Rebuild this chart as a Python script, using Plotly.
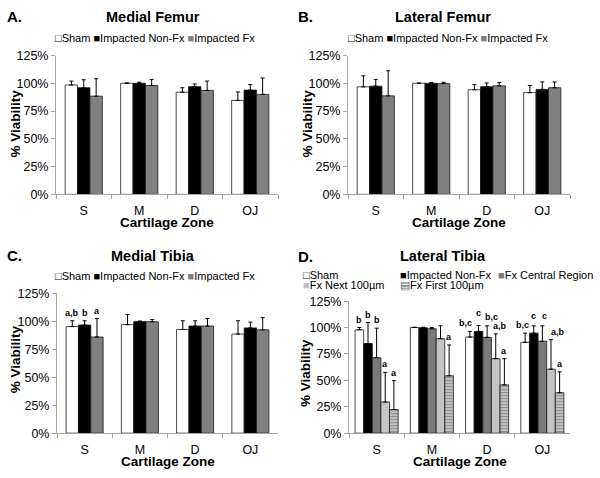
import plotly.graph_objects as go

# ---------------- data ----------------
zones = ["S", "M", "D", "OJ"]
y_ticks = [0, 25, 50, 75, 100, 125]
y_tick_labels = ["0%", "25%", "50%", "75%", "100%", "125%"]

# A. Medial Femur
mf_sham = [98.5, 100.0, 92.0, 84.6]
mf_sham_err = [3.5, 0.3, 4.0, 7.6]
mf_nonfx = [96.0, 100.0, 97.0, 93.9]
mf_nonfx_err = [7.2, 1.0, 2.4, 4.9]
mf_fx = [88.4, 98.0, 93.6, 90.0]
mf_fx_err = [15.7, 5.5, 8.4, 14.7]

# B. Lateral Femur
lf_sham = [96.8, 100.0, 94.2, 91.6]
lf_sham_err = [9.9, 0.2, 4.6, 6.4]
lf_nonfx = [97.4, 100.0, 97.0, 94.5]
lf_nonfx_err = [6.1, 0.6, 3.3, 6.7]
lf_fx = [88.7, 99.7, 97.7, 96.0]
lf_fx_err = [22.6, 1.2, 2.9, 5.2]

# C. Medial Tibia
mt_sham = [95.3, 97.0, 92.7, 88.6]
mt_sham_err = [5.2, 9.0, 7.8, 11.9]
mt_nonfx = [96.7, 99.9, 95.8, 94.1]
mt_nonfx_err = [3.8, 0.3, 4.7, 5.2]
mt_fx = [86.0, 99.6, 95.8, 92.4]
mt_fx_err = [16.5, 2.0, 6.7, 10.9]
mt_sham_sig = ["a,b", "", "", ""]
mt_nonfx_sig = ["b", "", "", ""]
mt_fx_sig = ["a", "", "", ""]

# D. Lateral Tibia
lt_sham = [97.8, 100.0, 91.0, 86.0]
lt_sham_err = [2.2, 0.3, 5.3, 8.7]
lt_nonfx = [84.8, 99.7, 96.3, 94.7]
lt_nonfx_err = [19.9, 0.6, 5.6, 6.9]
lt_central = [71.4, 98.8, 90.7, 87.0]
lt_central_err = [28.0, 1.2, 10.9, 14.6]
lt_next = [29.5, 89.4, 70.5, 60.6]
lt_next_err = [28.0, 12.2, 23.5, 27.9]
lt_first = [22.4, 54.3, 45.7, 38.2]
lt_first_err = [27.3, 29.2, 24.8, 19.8]
lt_sham_sig = ["b", "", "b,c", "b,c"]
lt_nonfx_sig = ["b", "", "c", "c"]
lt_central_sig = ["b", "", "b,c", "c"]
lt_next_sig = ["a", "", "a,b", "a,b"]
lt_first_sig = ["a", "a", "a", "a"]

# ---------------- styling ----------------
FONT = "Liberation Sans, Arial, sans-serif"
W, H = 600, 478
AXIS_COL = "#a6a6a6"

def px_x(p):
    return p / W

def px_y(p):
    return 1 - p / H

panels = {
    1: dict(x=(56, 278), y=(50, 193)),
    2: dict(x=(348, 570), y=(50, 193)),
    3: dict(x=(57, 278), y=(295, 439)),
    4: dict(x=(349, 570), y=(303, 439)),
}

STYLE = {
    "Sham": dict(color="white", glyph="□", gcol="black"),
    "Impacted Non-Fx": dict(color="black", glyph="■", gcol="black"),
    "Impacted Fx": dict(color="#808080", glyph="■", gcol="#808080"),
    "Fx Central Region": dict(color="#7a7a7a", glyph="■", gcol="#7a7a7a"),
    "Fx Next 100µm": dict(color="#c4c4c4", glyph="■", gcol="#bdbdbd"),
    "Fx First 100µm": dict(color="#c8c8c8", glyph="▤", gcol="#666666",
                           pattern=dict(shape="-", fgcolor="#5a5a5a",
                                        bgcolor="#c8c8c8", size=3, solidity=0.45)),
}

# pixel nudges for crowded significance letters: (panel, series index, zone index) -> (dx, dy)
LABEL_NUDGE = {
    (4, 0, 2): (-4, 0), (4, 1, 2): (0, 5), (4, 2, 2): (4, 1), (4, 3, 2): (4, 0),
    (4, 0, 3): (-3, 0), (4, 1, 3): (0, 2), (4, 2, 3): (2, 2), (4, 3, 3): (7, 0),
}

fig = go.Figure()
annotations = []

def add_group(panel, series, group_frac):
    n = len(series)
    bw = group_frac / n
    xa = "x" if panel == 1 else f"x{panel}"
    ya = "y" if panel == 1 else f"y{panel}"
    for i, (name, vals, errs, sig) in enumerate(series):
        off = -group_frac / 2 + i * bw
        st = STYLE[name]
        marker = dict(color=st["color"], line=dict(color="#1a1a1a", width=0.8))
        if "pattern" in st:
            marker["pattern"] = st["pattern"]
        fig.add_trace(go.Bar(
            x=zones, y=vals, name=name, width=[bw] * len(zones),
            offset=[off] * len(zones), marker=marker,
            error_y=dict(type="data", array=errs, arrayminus=[0] * len(errs),
                         symmetric=False, color="black", thickness=1, width=2),
            xaxis=xa, yaxis=ya, showlegend=False,
        ))
        if sig:
            for k, s in enumerate(sig):
                if s:
                    dx, dy = LABEL_NUDGE.get((panel, i, k), (0, 0))
                    annotations.append(dict(
                        x=k + off + bw / 2, y=vals[k] + errs[k], xref=xa, yref=ya,
                        text=f"<b>{s}</b>", showarrow=False, yanchor="bottom",
                        xshift=dx, yshift=1 + dy,
                        font=dict(family=FONT, size=9, color="black")))

add_group(1, [("Sham", mf_sham, mf_sham_err, None),
              ("Impacted Non-Fx", mf_nonfx, mf_nonfx_err, None),
              ("Impacted Fx", mf_fx, mf_fx_err, None)], 0.67)
add_group(2, [("Sham", lf_sham, lf_sham_err, None),
              ("Impacted Non-Fx", lf_nonfx, lf_nonfx_err, None),
              ("Impacted Fx", lf_fx, lf_fx_err, None)], 0.67)
add_group(3, [("Sham", mt_sham, mt_sham_err, mt_sham_sig),
              ("Impacted Non-Fx", mt_nonfx, mt_nonfx_err, mt_nonfx_sig),
              ("Impacted Fx", mt_fx, mt_fx_err, mt_fx_sig)], 0.67)
add_group(4, [("Sham", lt_sham, lt_sham_err, lt_sham_sig),
              ("Impacted Non-Fx", lt_nonfx, lt_nonfx_err, lt_nonfx_sig),
              ("Fx Central Region", lt_central, lt_central_err, lt_central_sig),
              ("Fx Next 100µm", lt_next, lt_next_err, lt_next_sig),
              ("Fx First 100µm", lt_first, lt_first_err, lt_first_sig)], 0.78)

layout = dict(
    width=W, height=H, margin=dict(l=0, r=0, t=0, b=0, pad=0),
    paper_bgcolor="white", plot_bgcolor="white",
    font=dict(family=FONT, color="black"),
    barmode="overlay", showlegend=False,
)

for p, d in panels.items():
    xk = "xaxis" if p == 1 else f"xaxis{p}"
    yk = "yaxis" if p == 1 else f"yaxis{p}"
    ya = "y" if p == 1 else f"y{p}"
    xa = "x" if p == 1 else f"x{p}"
    layout[xk] = dict(
        domain=[px_x(d["x"][0]), px_x(d["x"][1])], anchor=ya,
        type="category", range=[-0.5, 3.5],
        showline=True, linecolor=AXIS_COL, linewidth=1,
        ticks="outside", tickson="boundaries", ticklen=4, tickcolor=AXIS_COL,
        tickfont=dict(size=12.5, family=FONT, color="black"),
        ticklabelstandoff=5,
        showgrid=False, zeroline=False, fixedrange=True,
    )
    layout[yk] = dict(
        domain=[px_y(d["y"][1]), px_y(d["y"][0])], anchor=xa,
        range=[0, 125], tickmode="array", tickvals=y_ticks, ticktext=y_tick_labels,
        showline=True, linecolor=AXIS_COL, linewidth=1,
        ticks="outside", ticklen=4, tickcolor=AXIS_COL,
        tickfont=dict(size=12.5, family=FONT, color="black"),
        showgrid=False, zeroline=False, fixedrange=True,
    )
    annotations.append(dict(x=0.5, xref=f"{xa} domain", y=px_y(d["y"][1] + 29), yref="paper",
                            text="<b>Cartilage Zone</b>", showarrow=False,
                            xanchor="center", yanchor="middle",
                            font=dict(family=FONT, size=13.5, color="black")))

def legend_text(names):
    parts = []
    for nm in names:
        st = STYLE[nm]
        parts.append(f"<span style='color:{st['gcol']}'>{st['glyph']}</span>{nm}")
    return " ".join(parts)

legend_rows = [
    (["Sham", "Impacted Non-Fx", "Impacted Fx"], 155, 32, "center"),
    (["Sham", "Impacted Non-Fx", "Impacted Fx"], 448, 32, "center"),
    (["Sham", "Impacted Non-Fx", "Impacted Fx"], 155, 277, "center"),
    (["Sham"], 302, 276.5, "left"),
    (["Impacted Non-Fx"], 399, 276.5, "left"),
    (["Fx Central Region"], 497, 276.5, "left"),
    (["Fx Next 100µm"], 302, 286.5, "left"),
    (["Fx First 100µm"], 399, 286.5, "left"),
]
for names, lx, ly, anc in legend_rows:
    annotations.append(dict(x=px_x(lx), y=px_y(ly), xref="paper", yref="paper",
                            text=legend_text(names), showarrow=False, xanchor=anc,
                            yanchor="middle", borderpad=0,
                            font=dict(family=FONT, size=11, color="black")))

titles = [("A.", "Medial Femur", 5, 153, 10, 15, 120),
          ("B.", "Lateral Femur", 296, 443, 10, 307, 120),
          ("C.", "Medial Tibia", 5, 153, 256, 15, 363),
          ("D.", "Lateral Tibia", 296, 443, 257, 306, 377)]
for letter, title, lx, tx, ty, yx, yy in titles:
    annotations.append(dict(x=px_x(lx), y=px_y(ty), xref="paper", yref="paper",
                            text=f"<b>{letter}</b>", showarrow=False, xanchor="left",
                            yanchor="middle", font=dict(family=FONT, size=15, color="black")))
    annotations.append(dict(x=px_x(tx), y=px_y(ty), xref="paper", yref="paper",
                            text=f"<b>{title}</b>", showarrow=False, xanchor="center",
                            yanchor="middle", font=dict(family=FONT, size=14.5, color="black")))
    annotations.append(dict(x=px_x(yx), y=px_y(yy), xref="paper", yref="paper",
                            text="<b>% Viability</b>", showarrow=False, textangle=-90,
                            xanchor="center", yanchor="middle",
                            font=dict(family=FONT, size=13.5, color="black")))

layout["annotations"] = annotations
fig.update_layout(**layout)
fig.write_html("out.html", config={"displayModeBar": False},
               post_script="document.body.style.margin='0';document.body.style.overflow='hidden';")
